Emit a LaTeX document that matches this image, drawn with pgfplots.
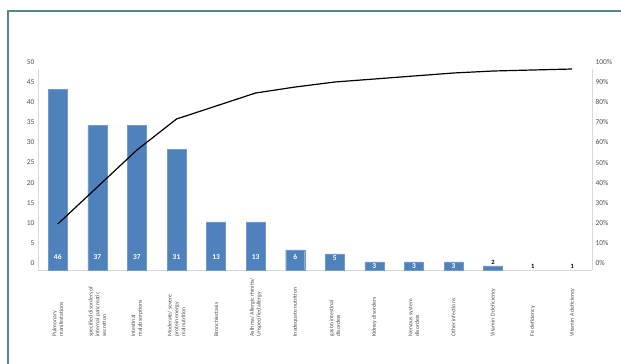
\documentclass[border=0pt]{standalone}
\usepackage{pgfplots}
\pgfplotsset{compat=1.18}
\usepackage{fontspec}
\setmainfont{Carlito}
\definecolor{barblue}{RGB}{79,129,189}
\definecolor{teal}{RGB}{84,136,136}
\definecolor{ticktxt}{RGB}{80,80,80}
\definecolor{axgrey}{RGB}{217,217,217}
\begin{document}
\begin{tikzpicture}[x=1bp,y=1bp]
\useasboundingbox (0,0) rectangle (621,363);
\fill[white] (0,0) rectangle (621,363);
\draw[teal, line width=2.5bp] (8,-5) -- (8,352) -- (630,352);
\begin{axis}[
  at={(38bp,93bp)}, anchor=south west,
  width=554bp, height=201bp, scale only axis,
  xmin=-0.5, xmax=13.5, ymin=0, ymax=50,
  axis x line*=bottom, axis y line*=left,
  axis line style={axgrey, line width=0.6bp},
  x axis line style={-}, y axis line style={-},
  xtick={0,...,13},
  ytick={0,5,...,50},
  major tick length=0pt,
  /pgf/number format/assume math mode=true,
  yticklabel style={font=\fontsize{7.5}{8}\selectfont, text=ticktxt, yshift=7bp},
  xticklabels={{Pulmonary\\manifestations},
    {specified disorders of\\internal pancreatic\\secretion},
    {intestinal\\malabsorptions},
    {Moderate/ severe\\protein energy\\malnutrition},
    {Bronchiectasis},
    {Asthma/ Allergic rhinitis/\\Unspecified allergy},
    {Inadequate nutrition},
    {gastrointestinal\\disorders},
    {Kidney disorders},
    {Nervous system\\disorders},
    {Other infections},
    {Vitamin D deficiency},
    {Fe deficiency},
    {Vitamin A deficiency}},
  xticklabel style={yshift=-70bp, rotate=90, anchor=west, align=left,
    font=\fontsize{5.8}{6.8}\selectfont, text=ticktxt},
  clip=false,
]
\addplot[ybar, bar width=19bp, fill=barblue, draw=barblue!80!white] coordinates {
(0,45) (1,36) (2,36) (3,30) (4,12) (5,12) (6,5) (7,4) (8,2) (9,2) (10,2) (11,1)};
\addplot[draw=none, mark=none, nodes near coords, point meta=explicit symbolic,
  every node near coord/.append style={anchor=center, text=white, font=\fontsize{7.5}{8}\selectfont\bfseries}]
coordinates {(0,3.2)[46] (1,3.2)[37] (2,3.2)[37] (3,3.2)[31] (4,3.2)[13] (5,3.2)[13] (6,3.2)[6] (7,3.0)[5] (8,1.1)[3] (9,1.1)[3] (10,1.1)[3]};
\addplot[draw=none, mark=none, nodes near coords, point meta=explicit symbolic,
  every node near coord/.append style={anchor=center, text=black, font=\fontsize{6.5}{7}\selectfont\bfseries}]
coordinates {(11,2.0)[2] (12,1.0)[1] (13,1.0)[1]};
\end{axis}
\begin{axis}[
  at={(38bp,93bp)}, anchor=south west,
  width=554bp, height=201bp, scale only axis,
  xmin=-0.5, xmax=13.5, ymin=0, ymax=100,
  axis x line=none, axis y line*=right,
  axis line style={axgrey, line width=0.6bp},
  y axis line style={-},
  ytick={0,10,...,100},
  major tick length=0pt,
  /pgf/number format/assume math mode=true,
  yticklabel={\pgfmathprintnumber{\tick}\%},
  yticklabel style={font=\fontsize{7.5}{8}\selectfont, text=ticktxt, yshift=7bp},
  clip=false,
]
\addplot[black, line width=1.2bp, mark=none] coordinates {
(0,22.89) (1,41.29) (2,59.70) (3,75.12) (4,81.59) (5,88.06) (6,91.04) (7,93.53) (8,95.02) (9,96.52) (10,98.01) (11,99.00) (12,99.50) (13,100)};
\end{axis}
\end{tikzpicture}
\end{document}
